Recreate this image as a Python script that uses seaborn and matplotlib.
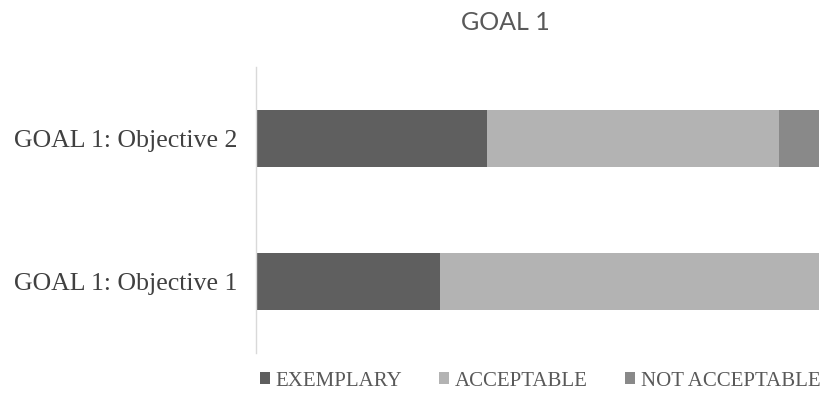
import matplotlib
matplotlib.use("Agg")
import matplotlib.pyplot as plt
from matplotlib.patches import Patch
import numpy as np
import pandas as pd
import seaborn as sns

# Share of ratings per objective (percent)
objectives = ["GOAL 1: Objective 2", "GOAL 1: Objective 1"]
exemplary = [41.0, 32.6]
acceptable = [51.9, 67.4]
not_acceptable = [7.1, 0.0]

series_names = ["EXEMPLARY", "ACCEPTABLE", "NOT ACCEPTABLE"]
series_colors = ["#5f5f5f", "#b3b3b3", "#898989"]

sns.set_theme(style="white")
plt.rcParams["font.family"] = ["Liberation Serif", "DejaVu Serif"]

df = pd.DataFrame({
    "objective": objectives,
    "EXEMPLARY": exemplary,
    "ACCEPTABLE": acceptable,
    "NOT ACCEPTABLE": not_acceptable,
})
# cumulative right edges so the stacked segments can be layered back-to-front
cum = df[series_names].cumsum(axis=1)

fig = plt.figure(figsize=(8.25, 3.93), dpi=100)
ax = fig.add_axes([256 / 825, 1 - 353 / 393, (819 - 256) / 825, (353 - 67) / 393])

for name, color in reversed(list(zip(series_names, series_colors))):
    sns.barplot(data=cum.assign(objective=df["objective"]), x=name, y="objective",
                order=objectives, color=color, width=0.405, ax=ax,
                orient="h", saturation=1, linewidth=0)

ax.set_xlim(0, 100)
ax.set_ylim(1.5, -0.5)
ax.set_xlabel("")
ax.set_ylabel("")
ax.set_xticks([])
for side in ["top", "right", "bottom"]:
    ax.spines[side].set_visible(False)
ax.spines["left"].set_color("#d9d9d9")
ax.spines["left"].set_linewidth(1.0)
ax.tick_params(axis="y", length=0, pad=13.5, labelsize=18.6, labelcolor="#404040")

fig.text(505 / 825, 1 - 23 / 393, "GOAL 1", ha="center", va="center",
         fontsize=18, color="#595959", family=["Lato", "DejaVu Sans"])

handles = [Patch(facecolor=c, edgecolor="none") for c in series_colors]
fig.legend(handles, series_names, loc="center", bbox_to_anchor=(540 / 825, 1 - 381 / 393),
           ncol=3, frameon=False, fontsize=15, handlelength=0.48, handleheight=0.48,
           handletextpad=0.3, columnspacing=1.75, labelcolor="#595959",
           borderaxespad=0, borderpad=0)

fig.savefig("out.png", dpi=100)
